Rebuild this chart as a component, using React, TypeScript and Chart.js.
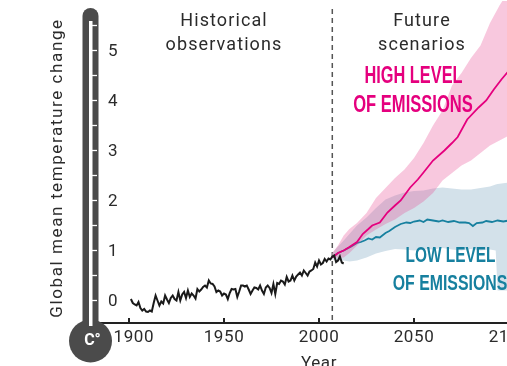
import React, { useEffect, useRef } from 'react';
import { Chart, registerables } from 'chart.js';

Chart.register(...registerables);

// ---------- data ----------
const X_TICKS = [1900, 1950, 2000, 2050, 2100];
const Y_TICKS = [0, 1, 2, 3, 4, 5];
const THERMO_TICKS = [0, 0.5, 1, 1.5, 2, 2.5, 3, 3.5, 4, 4.5, 5, 5.5];
const SCENARIO_START = 2007;

const HIST_START = 1901;
const HIST_VALUES = [
  0.03, -0.05, -0.08, -0.1, -0.03, -0.15, -0.2, -0.17, -0.22, -0.23,
  -0.2, -0.22, -0.05, 0.1, 0.0, -0.1, -0.02, -0.06, 0.1, 0.02,
  -0.05, 0.05, 0.1, 0.03, 0.0, 0.17, 0.0, 0.12, 0.17, 0.05,
  0.2, 0.07, 0.14, 0.1, 0.04, 0.23, 0.18, 0.22, 0.27, 0.3,
  0.26, 0.4, 0.34, 0.33, 0.28, 0.17, 0.2, 0.18, 0.1, 0.14,
  0.12, 0.03, 0.15, 0.23, 0.22, 0.23, 0.07, 0.18, 0.3, 0.3,
  0.28, 0.3, 0.22, 0.13, 0.2, 0.26, 0.25, 0.22, 0.3, 0.2,
  0.13, 0.26, 0.3, 0.25, 0.15, 0.33, 0.13, 0.35, 0.33, 0.4,
  0.38, 0.32, 0.47, 0.38, 0.4, 0.5, 0.4, 0.48, 0.52, 0.56,
  0.5, 0.6, 0.55, 0.5, 0.58, 0.6, 0.63, 0.76, 0.68, 0.8,
  0.72, 0.75, 0.83, 0.78, 0.84, 0.82, 0.88, 0.9, 0.77, 0.8,
  0.88, 0.76, 0.74,
];
const HIST_YEARS = HIST_VALUES.map((_, i) => HIST_START + i);

const HIGH_YEARS = [2007, 2010, 2013, 2016, 2020, 2023, 2026, 2028, 2032, 2036, 2040, 2043, 2048, 2052, 2055, 2060, 2066, 2070, 2073, 2078, 2084, 2088, 2092, 2096, 2100];
const HIGH_VALUES = [0.86, 0.95, 1.0, 1.07, 1.17, 1.33, 1.43, 1.5, 1.56, 1.76, 1.9, 2.0, 2.26, 2.42, 2.56, 2.8, 3.0, 3.15, 3.27, 3.62, 3.86, 4.0, 4.22, 4.42, 4.6];

const HIGH_BAND_YEARS = [2007, 2010, 2013, 2016, 2020, 2025, 2030, 2035, 2040, 2045, 2050, 2055, 2060, 2065, 2070, 2075, 2080, 2085, 2090, 2095, 2100];
const HIGH_UPPER = [0.95, 1.1, 1.3, 1.43, 1.55, 1.75, 2.05, 2.25, 2.45, 2.62, 2.85, 3.15, 3.5, 3.8, 4.3, 4.55, 4.85, 5.1, 5.55, 5.9, 6.2];
const HIGH_LOWER = [0.85, 0.86, 0.86, 0.95, 1.1, 1.3, 1.42, 1.53, 1.62, 1.75, 1.85, 1.98, 2.15, 2.4, 2.55, 2.7, 2.8, 2.95, 3.1, 3.2, 3.3];

const LOW_YEARS = [2007, 2010, 2013, 2017, 2020, 2022, 2024, 2026, 2028, 2030, 2032, 2035, 2037, 2040, 2043, 2046, 2048, 2050, 2053, 2055, 2057, 2060, 2063, 2065, 2068, 2071, 2074, 2077, 2079, 2081, 2083, 2086, 2088, 2091, 2094, 2097, 2100];
const LOW_VALUES = [0.86, 0.95, 1.0, 1.08, 1.15, 1.17, 1.2, 1.24, 1.22, 1.27, 1.26, 1.35, 1.39, 1.47, 1.53, 1.56, 1.55, 1.58, 1.6, 1.57, 1.62, 1.6, 1.58, 1.6, 1.57, 1.59, 1.56, 1.56, 1.55, 1.49, 1.55, 1.56, 1.59, 1.57, 1.6, 1.58, 1.6];

const LOW_BAND_YEARS = [2007, 2010, 2013, 2016, 2020, 2025, 2030, 2035, 2040, 2045, 2050, 2055, 2060, 2065, 2070, 2075, 2080, 2085, 2090, 2093, 2094, 2100];
const LOW_UPPER = [0.95, 1.08, 1.2, 1.33, 1.5, 1.66, 1.85, 2.02, 2.1, 2.16, 2.19, 2.2, 2.24, 2.26, 2.24, 2.22, 2.22, 2.25, 2.28, 2.32, 2.33, 2.36];
const LOW_LOWER = [0.82, 0.8, 0.8, 0.78, 0.8, 0.86, 0.94, 0.99, 1.03, 1.02, 1.0, 1.03, 1.02, 1.05, 1.02, 1.0, 1.03, 1.0, 1.02, 1.0, 0.2, 0.2];

// ---------- style ----------
const TEXT = '#2b2b2b';
const PINK = '#e5007e';
const TEAL = '#17809f';
const FONT = 'Roboto, "Noto Sans", sans-serif';
const NARROW = '"Liberation Sans Narrow", "Liberation Sans", Arial, sans-serif';

const pts = (xs: number[], ys: number[]) => xs.map((x, i) => ({ x, y: ys[i] }));

export default function App() {
  const ref = useRef<HTMLCanvasElement>(null);

  useEffect(() => {
    const canvas = ref.current;
    if (!canvas) return;

    const decor = {
      id: 'decor',
      beforeDraw(chart: any) {
        (chart.ctx as any).letterSpacing = '0.6px';
      },
      beforeDatasetsDraw(chart: any) {
        const ctx = chart.ctx;
        const xs = chart.scales.x;
        const x = xs.getPixelForValue(SCENARIO_START);
        ctx.save();
        ctx.strokeStyle = '#555';
        ctx.lineWidth = 1.5;
        ctx.setLineDash([5, 4]);
        ctx.beginPath();
        ctx.moveTo(x, 9);
        ctx.lineTo(x, chart.chartArea.bottom);
        ctx.stroke();
        ctx.restore();
      },
      afterDraw(chart: any) {
        const ctx = chart.ctx;
        const xs = chart.scales.x;
        const ys = chart.scales.y;
        const area = chart.chartArea;
        ctx.save();
        // upward x tick marks
        ctx.strokeStyle = '#222';
        ctx.lineWidth = 2;
        X_TICKS.forEach((v) => {
          const x = xs.getPixelForValue(v);
          ctx.beginPath();
          ctx.moveTo(x, area.bottom - 5);
          ctx.lineTo(x, area.bottom);
          ctx.stroke();
        });

        // thermometer
        const cx = 90.5;
        ctx.fillStyle = '#4b4b4b';
        ctx.beginPath();
        ctx.moveTo(cx - 8, 335);
        ctx.lineTo(cx - 8, 16);
        ctx.arc(cx, 16, 8, Math.PI, 0);
        ctx.lineTo(cx + 8, 335);
        ctx.closePath();
        ctx.fill();
        ctx.beginPath();
        ctx.arc(cx, 341, 21.5, 0, Math.PI * 2);
        ctx.fill();
        ctx.fillStyle = '#fff';
        ctx.fillRect(cx - 1.5, 21, 3.5, 305);
        ctx.strokeStyle = '#fff';
        ctx.lineWidth = 1.3;
        THERMO_TICKS.forEach((v) => {
          const y = ys.getPixelForValue(v);
          ctx.beginPath();
          ctx.moveTo(cx + 1.5, y);
          ctx.lineTo(cx + 6.5, y);
          ctx.stroke();
        });
        ctx.letterSpacing = '0px';
        ctx.font = `bold 16px ${FONT}`;
        ctx.textAlign = 'center';
        ctx.textBaseline = 'middle';
        ctx.fillText('C°', cx + 2, 341);

        // y tick labels
        ctx.fillStyle = TEXT;
        ctx.font = `17px ${FONT}`;
        ctx.textAlign = 'left';
        Y_TICKS.forEach((v) => {
          ctx.fillText(String(v), 108, ys.getPixelForValue(v) + 1);
        });

        // y title
        ctx.save();
        ctx.translate(58, 168);
        ctx.rotate(-Math.PI / 2);
        ctx.letterSpacing = '1.6px';
        ctx.font = `17px ${FONT}`;
        ctx.textAlign = 'center';
        ctx.textBaseline = 'middle';
        ctx.fillText('Global mean temperature change', 0, 0);
        ctx.restore();

        // headings
        ctx.letterSpacing = '1.1px';
        ctx.font = `18px ${FONT}`;
        ctx.textAlign = 'center';
        ctx.textBaseline = 'alphabetic';
        ctx.fillStyle = TEXT;
        ctx.fillText('Historical', 224, 26);
        ctx.fillText('observations', 224, 50);
        ctx.fillText('Future', 422, 26);
        ctx.fillText('scenarios', 422, 50);

        // scenario labels (condensed bold)
        const narrow = (txt: string, x: number, y: number, color: string, size: number, sx: number) => {
          ctx.save();
          ctx.translate(x, y);
          ctx.scale(sx, 1);
          ctx.letterSpacing = '0px';
          ctx.font = `bold ${size}px ${NARROW}`;
          ctx.fillStyle = color;
          ctx.textAlign = 'center';
          ctx.textBaseline = 'alphabetic';
          ctx.fillText(txt, 0, 0);
          ctx.restore();
        };
        narrow('HIGH LEVEL', 413.5, 83, PINK, 23, 0.71);
        narrow('OF EMISSIONS', 413, 112, PINK, 23, 0.72);
        narrow('LOW LEVEL', 450.5, 262, TEAL, 22, 0.7);
        narrow('OF EMISSIONS', 450, 289.5, TEAL, 22, 0.72);
        ctx.restore();
      },
    };

    const chart = new Chart(canvas, {
      type: 'line',
      data: {
        datasets: [
          { data: pts(HIST_YEARS, HIST_VALUES), borderColor: '#1a1a1a', borderWidth: 2, fill: false },
          { data: pts(HIGH_YEARS, HIGH_VALUES), borderColor: PINK, borderWidth: 1.8, fill: false },
          { data: pts(HIGH_BAND_YEARS, HIGH_UPPER), borderColor: 'rgba(0,0,0,0)', borderWidth: 0, backgroundColor: 'rgba(232,72,145,0.3)', fill: '+1' },
          { data: pts(HIGH_BAND_YEARS, HIGH_LOWER), borderColor: 'rgba(0,0,0,0)', borderWidth: 0, fill: false },
          { data: pts(LOW_YEARS, LOW_VALUES), borderColor: TEAL, borderWidth: 1.8, fill: false },
          { data: pts(LOW_BAND_YEARS, LOW_UPPER), borderColor: 'rgba(0,0,0,0)', borderWidth: 0, backgroundColor: '#d3e1ea', fill: '+1' },
          { data: pts(LOW_BAND_YEARS, LOW_LOWER), borderColor: 'rgba(0,0,0,0)', borderWidth: 0, fill: false },
        ] as any,
      },
      options: {
        responsive: false,
        animation: false,
        devicePixelRatio: 1,
        events: [],
        elements: { point: { radius: 0 }, line: { tension: 0 } },
        layout: { padding: { left: 100.5, right: 7.5, top: 1, bottom: 0.2 } },
        plugins: { legend: { display: false }, tooltip: { enabled: false } },
        scales: {
          x: {
            type: 'linear',
            min: 1885,
            max: 2115,
            afterBuildTicks: (s: any) => {
              s.ticks = X_TICKS.map((v) => ({ value: v }));
            },
            ticks: {
              // the first label sits a little right of its tick, clear of the bulb
              callback: (v: any) => (v === X_TICKS[0] ? '  ' + String(v) : String(v)),
              font: { family: FONT, size: 17 },
              color: TEXT,
              padding: 5,
              maxRotation: 0,
              autoSkip: false,
            },
            grid: { display: true, drawOnChartArea: false, drawTicks: false },
            border: { display: true, color: '#222', width: 2 },
            title: {
              display: true,
              text: 'Year',
              font: { family: FONT, size: 17 },
              color: TEXT,
              padding: { top: 0, bottom: 8 },
            },
          },
          y: { display: false, min: -0.45, max: 5.99 },
        },
      },
      plugins: [decor],
    } as any);

    return () => chart.destroy();
  }, []);

  return (
    <div style={{ position: 'fixed', left: 0, top: 0, width: 507, height: 366, overflow: 'hidden', background: '#fff' }}>
      <canvas ref={ref} width={545} height={382} style={{ display: 'block', width: 545, height: 382 }} />
    </div>
  );
}
